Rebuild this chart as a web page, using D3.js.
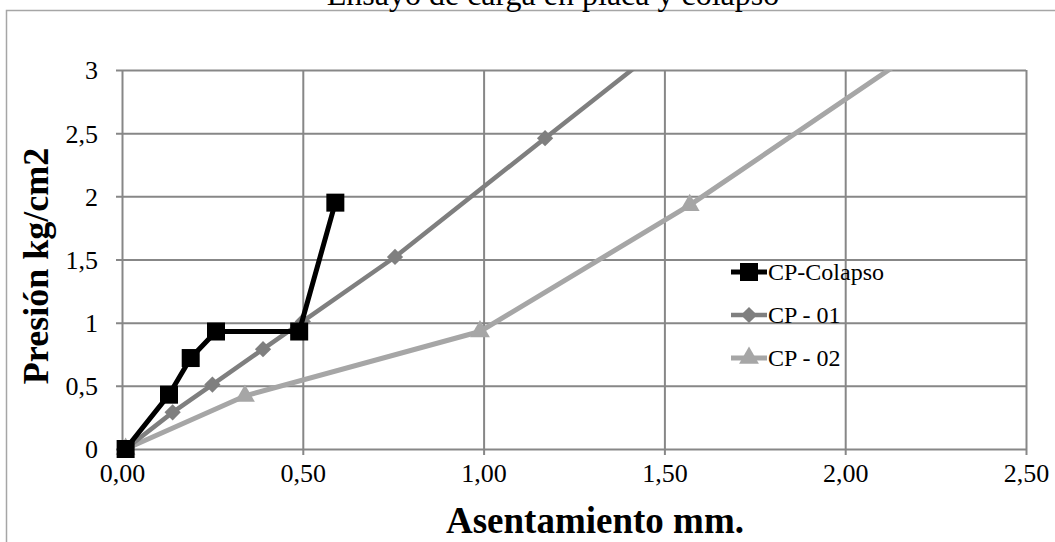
<!DOCTYPE html>
<html>
<head>
<meta charset="utf-8">
<script src="https://cdn.jsdelivr.net/npm/d3@7"></script>
<style>
    body { margin: 0; background: #fff; }
    text { font-family: "Liberation Serif", "Times New Roman", serif; fill: #000; }
</style>
</head>
<body>
<svg id="chart" width="1055" height="542"></svg>
<script>
// datos
const xTicks = [0, 0.5, 1, 1.5, 2, 2.5];
const yTicks = [0, 0.5, 1, 1.5, 2, 2.5, 3];
const seriesNames = ['CP-Colapso', 'CP - 01', 'CP - 02'];
const colapsoX = [0.01, 0.13, 0.19, 0.26, 0.49, 0.59];
const colapsoY = [0, 0.43, 0.72, 0.93, 0.93, 1.95];
const cp01X = [0.01, 0.14, 0.25, 0.39, 0.50, 0.755, 1.17, 1.60];
const cp01Y = [0, 0.29, 0.51, 0.79, 1.01, 1.52, 2.46, 3.43];
const cp02X = [0.01, 0.34, 0.99, 1.57, 2.30];
const cp02Y = [0, 0.42, 0.93, 1.93, 3.35];

const plot = { left: 122, right: 1026, top: 70, bottom: 449 };
const gridColor = '#878787';
const fmt = d => d3.format('.2f')(d).replace('.', ',');
const fmtY = d => String(d).replace('.', ',');

const svg = d3.select('#chart');

const x = d3.scaleLinear().domain([0, 2.5]).range([plot.left, plot.right]);
const y = d3.scaleLinear().domain([0, 3]).range([plot.bottom, plot.top]);

// borde del area del grafico
svg.append('rect')
    .attr('x', 6.5).attr('y', 10.5)
    .attr('width', 1100).attr('height', 600)
    .attr('fill', 'none')
    .attr('stroke', '#a6a6a6')
    .attr('stroke-width', 1.5);

svg.append('text')
    .attr('x', 553).attr('y', 5)
    .attr('text-anchor', 'middle')
    .style('font-size', '32px')
    .text('Ensayo de carga en placa y colapso');

// rejilla + ejes
const yAxis = svg.append('g')
    .attr('transform', `translate(${plot.left},0)`)
    .call(d3.axisLeft(y).tickValues(yTicks).tickSizeInner(-(plot.right - plot.left)).tickSizeOuter(0).tickFormat(fmtY));
yAxis.select('.domain').remove();
yAxis.selectAll('.tick line')
    .attr('x1', -6)
    .attr('stroke', gridColor).attr('stroke-width', 2);
yAxis.selectAll('.tick text')
    .attr('x', -24).attr('dy', '0.34em')
    .style('font-size', '26px');

const xAxis = svg.append('g')
    .attr('transform', `translate(0,${plot.bottom})`)
    .call(d3.axisBottom(x).tickValues(xTicks).tickSizeInner(-(plot.bottom - plot.top)).tickSizeOuter(0).tickFormat(fmt));
xAxis.select('.domain').remove();
xAxis.selectAll('.tick line')
    .attr('y1', 6)
    .attr('stroke', gridColor).attr('stroke-width', 2);
xAxis.selectAll('.tick text')
    .attr('y', 33).attr('dy', 0)
    .style('font-size', '26px');

svg.append('text')
    .attr('x', 595).attr('y', 533)
    .attr('text-anchor', 'middle')
    .style('font-size', '37px').style('font-weight', 'bold')
    .text('Asentamiento mm.');

svg.append('text')
    .attr('transform', 'translate(48,266) rotate(-90)')
    .attr('text-anchor', 'middle')
    .style('font-size', '36px').style('font-weight', 'bold')
    .text('Presión kg/cm2');

// series
const series = [
    { name: seriesNames[0], xs: colapsoX, ys: colapsoY, color: '#000000', symbol: d3.symbolSquare, size: 324, rot: 0, width: 5 },
    { name: seriesNames[1], xs: cp01X, ys: cp01Y, color: '#7f7f7f', symbol: d3.symbolSquare, size: 132, rot: 45, width: 4.5 },
    { name: seriesNames[2], xs: cp02X, ys: cp02Y, color: '#a6a6a6', symbol: d3.symbolTriangle, size: 170, rot: 0, width: 5 }
];

svg.append('clipPath').attr('id', 'plotClip')
    .append('rect')
    .attr('x', plot.left - 12).attr('y', plot.top)
    .attr('width', plot.right - plot.left + 24)
    .attr('height', plot.bottom - plot.top + 14);

const line = d3.line().x(d => x(d[0])).y(d => y(d[1]));
const plotG = svg.append('g').attr('clip-path', 'url(#plotClip)');

series.slice().reverse().forEach(s => {
    const pts = s.xs.map((v, i) => [v, s.ys[i]]);
    plotG.append('path')
        .datum(pts)
        .attr('d', line)
        .attr('fill', 'none')
        .attr('stroke', s.color)
        .attr('stroke-width', s.width)
        .attr('stroke-linejoin', 'round');
    plotG.selectAll(null)
        .data(pts)
        .enter()
        .append('path')
        .attr('d', d3.symbol().type(s.symbol).size(s.size))
        .attr('transform', d => `translate(${x(d[0])},${y(d[1])}) rotate(${s.rot})`)
        .attr('fill', s.color);
});

// leyenda
const legend = svg.append('g').attr('transform', 'translate(731,272)');
series.forEach((s, i) => {
    const row = legend.append('g').attr('transform', `translate(0,${i * 43})`);
    row.append('line')
        .attr('x1', 0).attr('x2', 36)
        .attr('stroke', s.color).attr('stroke-width', s.width);
    row.append('path')
        .attr('d', d3.symbol().type(s.symbol).size(s.size))
        .attr('transform', `translate(18,0) rotate(${s.rot})`)
        .attr('fill', s.color);
    row.append('text')
        .attr('x', 37).attr('y', 8)
        .style('font-size', '24px')
        .text(s.name);
});
</script>
</body>
</html>
